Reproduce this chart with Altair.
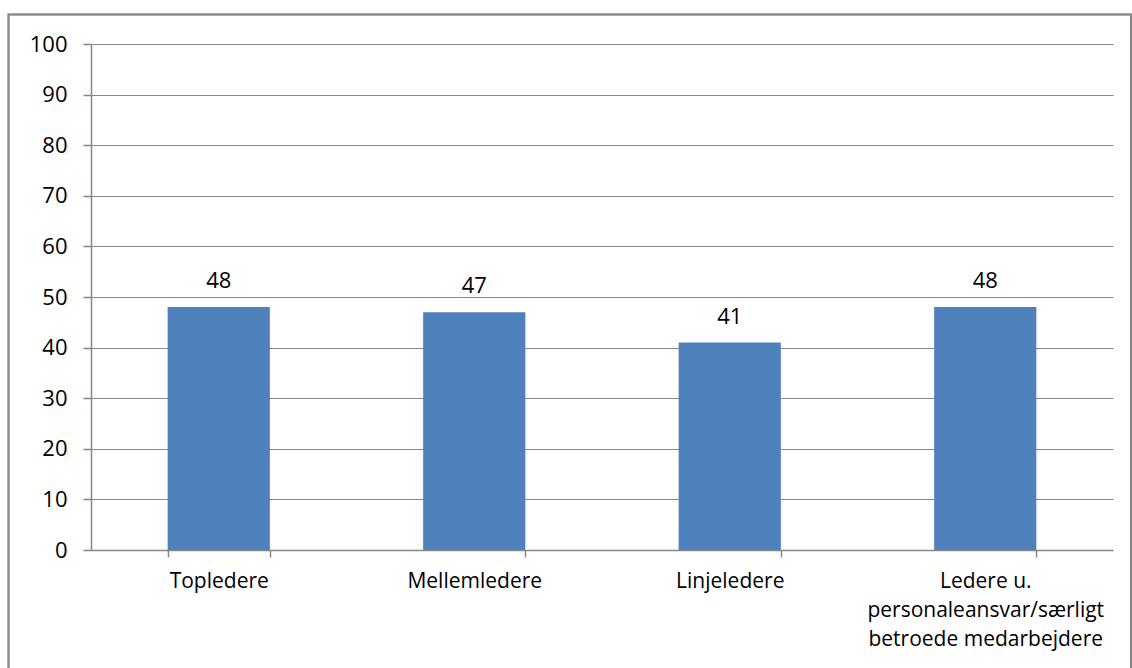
import altair as alt
import pandas as pd

categories = ["Topledere", "Mellemledere", "Linjeledere",
              "Ledere u.\npersonaleansvar/særligt\nbetroede medarbejdere"]
values = [48, 47, 41, 48]

df = pd.DataFrame({"cat": categories, "val": values})

FONT = "Open Sans"
FS = 21
FSN = 22
GRAY = "#878787"

x = alt.X("cat:N", sort=categories, title=None,
          scale=alt.Scale(paddingInner=0.6, paddingOuter=0.3),
          axis=alt.Axis(labelAngle=0, labelExpr="split(datum.label, '\\n')",
                        labelFont=FONT, labelFontSize=FS, labelColor="#000000",
                        labelLineHeight=29, labelPadding=13, labelBaseline="top",
                        labelLimit=0,
                        tickBand="extent", tickSize=7, tickColor=GRAY, tickWidth=1.5,
                        domainColor=GRAY, domainWidth=1.5, grid=False))
y = alt.Y("val:Q", title=None,
          scale=alt.Scale(domain=[0, 100]),
          axis=alt.Axis(values=list(range(0, 101, 10)), labelFont=FONT,
                        labelFontSize=FSN, labelColor="#000000", labelPadding=16,
                        tickSize=8, tickColor=GRAY, tickWidth=1.5,
                        domainColor=GRAY, domainWidth=1.5,
                        gridColor=GRAY, gridWidth=1.2))

bars = alt.Chart(df).mark_bar(color="#4F81BD").encode(x=x, y=y)
labels = alt.Chart(df).mark_text(font=FONT, fontSize=FSN, color="#000000",
                                 baseline="bottom", dy=-14).encode(
    x=alt.X("cat:N", sort=categories), y="val:Q", text="val:Q")

border = alt.Chart(df).mark_rect(fill=None, stroke=GRAY, strokeWidth=1.5, clip=False).encode(
    x=alt.value(-82.5), x2=alt.value(1040), y=alt.value(-29.5), y2=alt.value(700))

chart = alt.layer(bars, labels, border).properties(
    width=1022, height=506,
    padding={"left": 91, "top": 44, "right": 19, "bottom": 118},
    autosize=alt.AutoSizeParams(type="none"),
    background="white",
).configure_view(stroke=None)

chart.save("out.html", embed_options={"renderer": "svg", "actions": False})
